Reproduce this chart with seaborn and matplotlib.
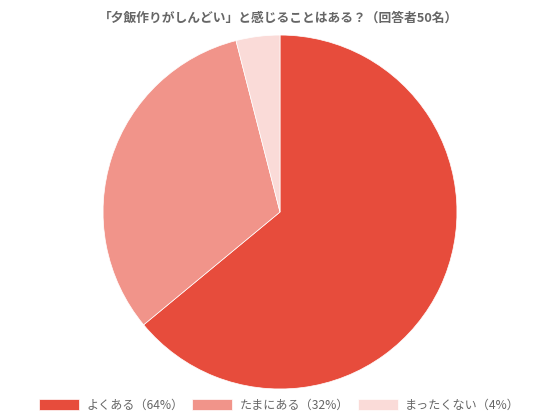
import matplotlib
matplotlib.use("Agg")
import matplotlib.pyplot as plt
import seaborn as sns

labels = ["よくある（64%）", "たまにある（32%）", "まったくない（4%）"]
values = [64, 32, 4]
colors = ["#e74c3c", "#f1948a", "#fadbd8"]
title = "「夕飯作りがしんどい」と感じることはある？（回答者50名）"

sns.set_theme(style="white")
plt.rcParams["font.family"] = ["Noto Sans CJK JP", "DejaVu Sans"]

fig = plt.figure(figsize=(5.6, 4.2), dpi=100)
ax = fig.add_axes([0.184, 0.0737, 0.632, 0.843])

wedges, _ = ax.pie(values, colors=sns.color_palette(colors), startangle=90,
                   counterclock=False, radius=1.0,
                   wedgeprops=dict(edgecolor="white", linewidth=0.5))
ax.set_xlim(-1.0, 1.0)
ax.set_ylim(-1.0, 1.0)
ax.set_aspect("equal")
ax.axis("off")

fig.text(0.497, 0.957, title, ha="center", va="center", fontsize=9.2,
         fontweight="bold", color="#666666")

fig.legend(wedges, labels, loc="center", bbox_to_anchor=(0.499, 0.035),
           ncol=3, frameon=False, fontsize=8.7, labelcolor="#666666",
           handlelength=3.3, handleheight=0.95, handletextpad=0.6,
           columnspacing=0.75)

fig.savefig("out.png", dpi=100)
